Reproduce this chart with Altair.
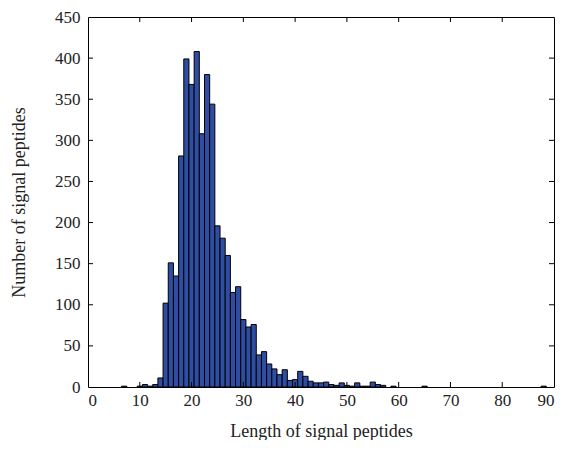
import altair as alt
import pandas as pd

lengths = [7, 10, 11, 12, 13, 14, 15, 16, 17, 18, 19, 20, 21, 22, 23, 24, 25, 26, 27, 28,
           29, 30, 31, 32, 33, 34, 35, 36, 37, 38, 39, 40, 41, 42, 43, 44, 45, 46, 47, 48,
           49, 50, 51, 52, 53, 54, 55, 56, 57, 59, 65, 88]
counts = [1, 1, 3, 1, 3, 11, 102, 151, 135, 281, 399, 368, 408, 308, 380, 344, 196, 181, 160, 115,
          122, 82, 73, 76, 39, 43, 28, 22, 15, 21, 8, 9, 19, 13, 7, 5, 5, 6, 3, 2,
          5, 2, 1, 5, 1, 1, 6, 3, 2, 1, 1, 1]
x_ticks = [0, 10, 20, 30, 40, 50, 60, 70, 80, 90]
y_ticks = [0, 50, 100, 150, 200, 250, 300, 350, 400, 450]

W, H = 466, 370
FONT = "Liberation Serif"

df = pd.DataFrame({"len": lengths, "n": counts})
df["x0"] = df["len"] - 0.5
df["x1"] = df["len"] + 0.5
df["base"] = 0

xs = alt.Scale(domain=[0, 90], nice=False, zero=False)
ys = alt.Scale(domain=[0, 450], nice=False)

bars = alt.Chart(df).mark_bar(color="#2f4ea3", stroke="black", strokeWidth=1).encode(
    x=alt.X("x0:Q", scale=xs,
            axis=alt.Axis(values=x_ticks, title="Length of signal peptides", tickSize=0,
                          labelPadding=5, titlePadding=14, domain=False, grid=False)),
    x2="x1:Q",
    y=alt.Y("n:Q", scale=ys,
            axis=alt.Axis(values=y_ticks, title="Number of signal peptides", tickSize=0,
                          labelPadding=8, titlePadding=26, domain=False, grid=False)),
    y2="base:Q",
)

xt = pd.DataFrame({"v": x_ticks[1:-1]})
yt = pd.DataFrame({"v": y_ticks[1:-1]})

tb = alt.Chart(xt).mark_rule(color="black", strokeWidth=1).encode(
    x=alt.X("v:Q", scale=xs), y=alt.value(H), y2=alt.value(H - 5))
tt = alt.Chart(xt).mark_rule(color="black", strokeWidth=1).encode(
    x=alt.X("v:Q", scale=xs), y=alt.value(0), y2=alt.value(5))
tl = alt.Chart(yt).mark_rule(color="black", strokeWidth=1).encode(
    y=alt.Y("v:Q", scale=ys), x=alt.value(0), x2=alt.value(5))
tr = alt.Chart(yt).mark_rule(color="black", strokeWidth=1).encode(
    y=alt.Y("v:Q", scale=ys), x=alt.value(W), x2=alt.value(W - 5))

chart = alt.layer(bars, tb, tt, tl, tr).properties(
    width=W, height=H,
    autosize=alt.AutoSizeParams(type="none"),
    padding={"left": 80, "top": 9, "right": 9, "bottom": 53},
).configure_view(stroke="black", strokeWidth=1).configure_axis(
    labelFont=FONT, titleFont=FONT, labelFontSize=17, titleFontSize=18,
    titleFontWeight="normal", labelColor="#222", titleColor="#222",
)

chart.save("out.html", embed_options={"renderer": "svg", "actions": False})
